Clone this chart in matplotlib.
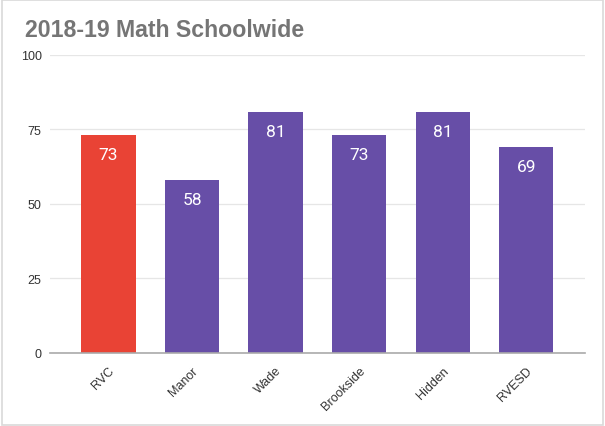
import matplotlib
matplotlib.use("Agg")
import matplotlib.pyplot as plt
from matplotlib.patches import Rectangle

categories = ["RVC", "Manor", "Wade", "Brookside", "Hidden", "RVESD"]
values = [73, 58, 81, 73, 81, 69]
bar_colors = ["#e94335", "#674ea7", "#674ea7", "#674ea7", "#674ea7", "#674ea7"]
yticks = [0, 25, 50, 75, 100]
title = "2018-19 Math Schoolwide"

fig = plt.figure(figsize=(6.05, 4.27), dpi=100)
fig.patch.set_facecolor("white")
fig.patches.append(Rectangle((0.003, 0.003), 0.994, 0.994, transform=fig.transFigure,
                             fill=False, edgecolor="#d9d9d9", linewidth=1.2))

ax = fig.add_axes([0.0826, 0.171, 0.884, 0.698])
x = list(range(len(categories)))
bars = ax.bar(x, values, width=0.65, color=bar_colors, zorder=3)

for xi, v in zip(x, values):
    ax.annotate(str(v), (xi, v), xytext=(0, -14), textcoords="offset points",
                ha="center", va="center", color="white", fontsize=12.5,
                family=["Roboto", "DejaVu Sans"], zorder=4)

ax.set_xlim(-0.7, len(categories) - 0.3)
ax.set_ylim(0, 100)
ax.set_yticks(yticks)
ax.set_yticklabels([str(t) for t in yticks], family=["Liberation Sans", "DejaVu Sans"],
                   fontsize=9, color="#333333")
ax.set_xticks(x)
ax.set_xticklabels(categories, rotation=45, ha="right", rotation_mode="anchor",
                   family=["Liberation Sans", "DejaVu Sans"], fontsize=9, color="#333333")
ax.tick_params(axis="both", length=0, pad=6)
ax.tick_params(axis="x", pad=8)

ax.grid(axis="y", color="#e6e6e6", linewidth=0.9, zorder=0)
for s in ["top", "right", "left"]:
    ax.spines[s].set_visible(False)
ax.spines["bottom"].set_color("#aaaaaa")
ax.spines["bottom"].set_linewidth(1.2)
ax.spines["bottom"].set_zorder(5)

fig.text(0.041, 0.928, title, fontsize=16.7, fontweight="bold", color="#757575",
         family=["Liberation Sans", "DejaVu Sans"], ha="left", va="center")

fig.savefig("out.png", dpi=100)
